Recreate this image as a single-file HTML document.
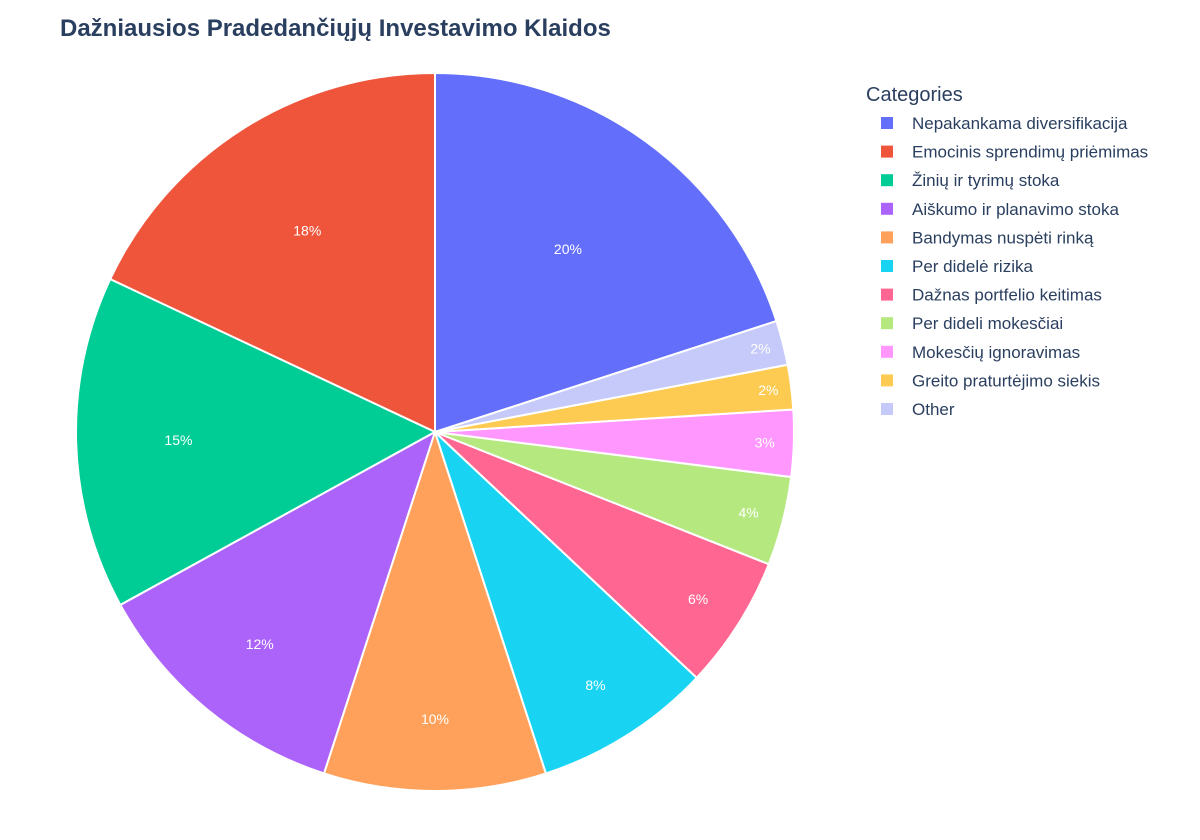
<!DOCTYPE html>
<html><head><meta charset="utf-8"><style>
html,body{margin:0;padding:0;background:#fff;}
svg{display:block;font-family:"Liberation Sans",Arial,sans-serif;}
</style></head><body>
<svg id="chart" width="1200" height="840">
<text x="60" y="36" font-size="24" font-weight="bold" fill="#2a3f5f">Dažniausios Pradedančiųjų Investavimo Klaidos</text>
<g id="slices"></g>
<g id="labels"></g>
<g id="legend">
<text x="866" y="101" font-size="20" fill="#2a3f5f">Categories</text>
</g>
</svg>
<script>
const categories=["Nepakankama diversifikacija","Emocinis sprendimų priėmimas","Žinių ir tyrimų stoka","Aiškumo ir planavimo stoka","Bandymas nuspėti rinką","Per didelė rizika","Dažnas portfelio keitimas","Per dideli mokesčiai","Mokesčių ignoravimas","Greito praturtėjimo siekis","Other"];
const values=[20,18,15,12,10,8,6,4,3,2,2];
const colors=["#636efa","#EF553B","#00cc96","#ab63fa","#FFA15A","#19d3f3","#FF6692","#B6E880","#FF97FF","#FECB52","#c6cafa"];
const NS="http://www.w3.org/2000/svg";
const cx=435,cy=432,R=359;
const total=values.reduce((a,b)=>a+b,0);
const sl=document.getElementById('slices'),lb=document.getElementById('labels'),lg=document.getElementById('legend');
// first slice goes clockwise from top; the rest go counterclockwise from top
function pt(a,r){return [cx+r*Math.sin(a),cy-r*Math.cos(a)];}
let start=0; // angle clockwise from top
const v0=values[0]/total*2*Math.PI;
let segs=[[0,v0]];
let cur=0;
for(let i=1;i<values.length;i++){const d=values[i]/total*2*Math.PI;segs.push([cur-d,cur]);cur-=d;}
values.forEach((v,i)=>{
  const [a0,a1]=segs[i];
  const p0=pt(a0,R),p1=pt(a1,R);
  const large=(a1-a0)>Math.PI?1:0;
  const p=document.createElementNS(NS,'path');
  p.setAttribute('d',`M${cx},${cy}L${p0[0]},${p0[1]}A${R},${R} 0 ${large} 1 ${p1[0]},${p1[1]}Z`);
  p.setAttribute('fill',colors[i]);p.setAttribute('stroke','#fff');p.setAttribute('stroke-width','2');
  
  
  sl.appendChild(p);
  const pct=v/total*100;
  const ratio=Math.min(0.94,0.97-0.017*pct);
  const m=pt((a0+a1)/2,R*ratio);
  const t=document.createElementNS(NS,'text');
  t.setAttribute('x',m[0]);t.setAttribute('y',m[1]+5);t.setAttribute('text-anchor','middle');
  t.setAttribute('font-size','14');t.setAttribute('fill','#fff');
  t.textContent=Math.round(pct)+'%';
  
  
  lb.appendChild(t);
  const y=123+i*28.6;
  const r=document.createElementNS(NS,'rect');
  r.setAttribute('x',881);r.setAttribute('y',y-6);r.setAttribute('width',12);r.setAttribute('height',12);r.setAttribute('fill',colors[i]);
  
  
  lg.appendChild(r);
  const lt=document.createElementNS(NS,'text');
  lt.setAttribute('x',912);lt.setAttribute('y',y+6);lt.setAttribute('font-size','17');lt.setAttribute('fill','#2a3f5f');
  lt.textContent=categories[i];
  
  
  lg.appendChild(lt);
});
</script>
</body></html>
